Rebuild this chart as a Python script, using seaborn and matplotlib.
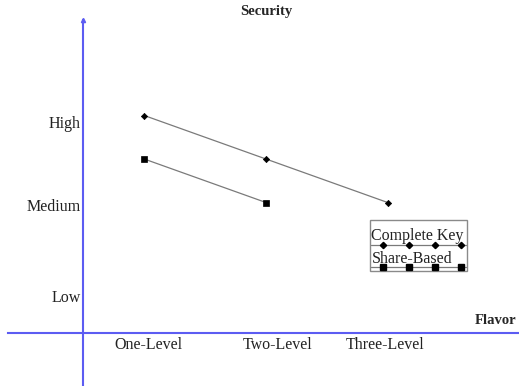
import numpy as np
import pandas as pd
import matplotlib
matplotlib.use('Agg')
import matplotlib.pyplot as plt
import matplotlib.transforms as mtrans
from matplotlib.lines import Line2D
from matplotlib.offsetbox import AnchoredOffsetbox, VPacker, TextArea, DrawingArea
import seaborn as sns

# data
flavors = ['One-Level', 'Two-Level', 'Three-Level']
levels = ['Low', 'Medium', 'High']
level_vals = [1, 2, 3]
complete_key = [3.0, 2.5, 2.0]
share_based = [2.5, 2.0]

d = []
pos = []
scheme = []
for i in range(len(complete_key)):
	d.append(complete_key[i])
	pos.append(i)
	scheme.append('Complete Key')
for i in range(len(share_based)):
	d.append(share_based[i])
	pos.append(i)
	scheme.append('Share-Based')
df = pd.DataFrame({'flavor': pos, 'security': d, 'scheme': scheme})

sns.set_style('white')
plt.rcParams['font.family'] = ['Liberation Serif', 'DejaVu Serif']

axis_blue = '#5c5cf2'
line_gray = '#7a7a7a'

fig = plt.figure(figsize=(5.19, 3.86), dpi=100)
ax = fig.add_axes([0, 0, 1, 1])

marks = {'Complete Key': ('D', 3.2), 'Share-Based': ('s', 4.8)}
for name in ['Complete Key', 'Share-Based']:
	m, ms = marks[name]
	sns.lineplot(x='flavor', y='security', data=df[df['scheme'] == name], ax=ax,
		color=line_gray, linewidth=0.9, marker=m, markersize=ms,
		markerfacecolor='black', markeredgecolor='black', markeredgewidth=0.5)

ax.set_xlim(-1.186, 3.079)
ax.set_ylim(-0.109, 4.328)
ax.set_xlabel('')
ax.set_ylabel('')

# axes drawn as crossing blue lines
for s in ['top', 'right']:
	ax.spines[s].set_visible(False)
ax.spines['left'].set_position(('data', -0.5))
ax.spines['bottom'].set_position(('data', 0.5))
ax.spines['left'].set_bounds(-0.109, 4.1)
ax.spines['bottom'].set_bounds(-1.12, 3.079)
for s in ['left', 'bottom']:
	ax.spines[s].set_color(axis_blue)
	ax.spines[s].set_linewidth(1.5)
ax.plot([-0.5], [4.1], marker='^', markersize=3, color=axis_blue, clip_on=False)

ax.set_xticks(range(len(flavors)))
ax.set_xticklabels(flavors, fontsize=11.5, color='#222222')
ax.set_yticks(level_vals)
ax.set_yticklabels(levels, fontsize=11.5, color='#222222')
ax.tick_params(axis='x', length=0, pad=3)
ax.tick_params(axis='y', length=0, pad=2.2)

# hand placed label nudges (pixels)
x_nudge = [4, 12, -3]
y_nudge = [6, 2.5, 6]
for lab, dx in zip(ax.get_xticklabels(), x_nudge):
	lab.set_transform(lab.get_transform() + mtrans.ScaledTranslation(dx / 100, 0, fig.dpi_scale_trans))
for lab, dy in zip(ax.get_yticklabels(), y_nudge):
	lab.set_transform(lab.get_transform() + mtrans.ScaledTranslation(0, -dy / 100, fig.dpi_scale_trans))

fig.text(266 / 519, 1 - 11 / 386, 'Security', ha='center', va='center',
	fontsize=10.5, fontweight='bold')
ax.text(2.717, 0.649, 'Flavor', ha='left', va='center', fontsize=10.5, fontweight='bold')

# legend: label above its sample line
def sample(marker, ms, h, y):
	da = DrawingArea(68, h, 0, 0)
	ln = Line2D([0, 8.6, 27.4, 46, 64.8, 68], [y] * 6, color=line_gray, linewidth=0.9,
		marker=marker, markersize=ms, markerfacecolor='black', markeredgecolor='black',
		markevery=[1, 2, 3, 4])
	da.add_artist(ln)
	return da

tp = dict(fontsize=11.5, family='Liberation Serif', color='#222222')
box = VPacker(children=[DrawingArea(68, 5.0, 0, 0),
	TextArea('Complete Key', textprops=tp), sample('D', 3.2, 5.0, 4.3),
	TextArea('Share-Based', textprops=tp), sample('s', 4.8, 1.5, 1.4)],
	align='left', pad=0, sep=0)
lg = AnchoredOffsetbox(loc='upper left', child=box, pad=0.1, borderpad=0,
	bbox_to_anchor=(370 / 519, 1 - 220 / 386), bbox_transform=fig.transFigure, frameon=True)
lg.patch.set_edgecolor('#8a8a8a')
lg.patch.set_linewidth(1.0)
lg.patch.set_boxstyle('square', pad=0)
ax.add_artist(lg)

plt.savefig('out.png', dpi=100)
